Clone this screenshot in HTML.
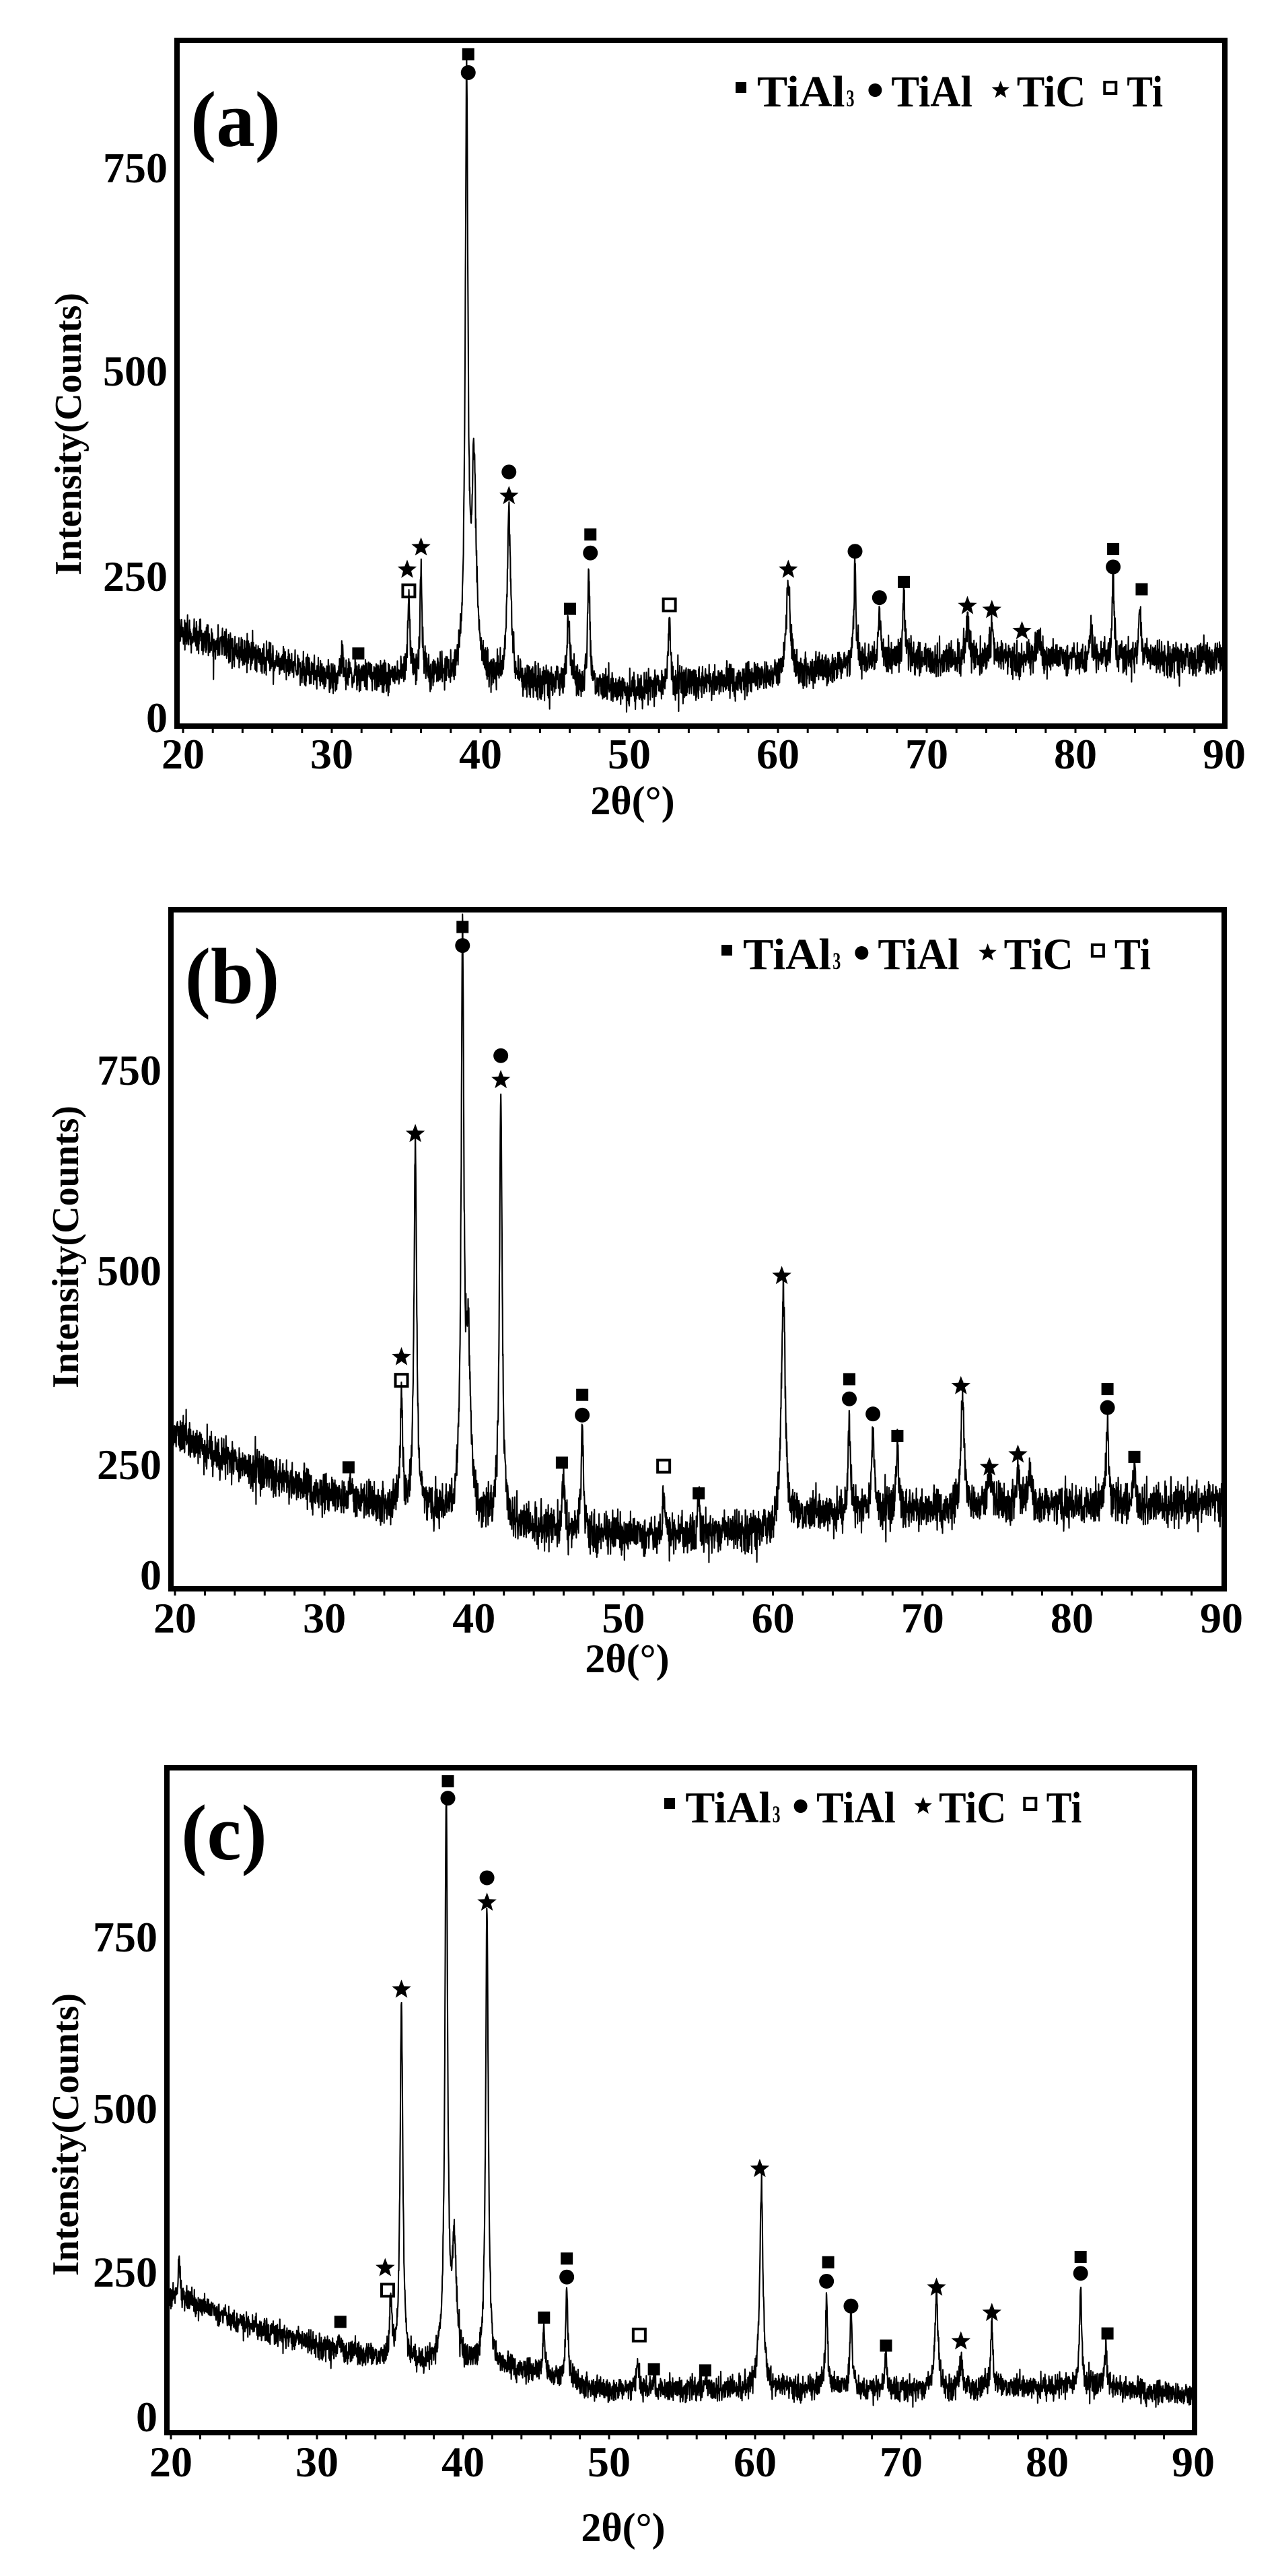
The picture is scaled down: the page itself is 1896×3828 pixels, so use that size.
<!DOCTYPE html>
<html><head><meta charset="utf-8">
<style>
html,body{margin:0;padding:0;background:#fff;}
svg{display:block;}
text{font-family:"Liberation Serif",serif;font-weight:bold;fill:#000;}
</style></head>
<body>
<svg id="s" width="1896" height="3828" viewBox="0 0 1896 3828" xmlns="http://www.w3.org/2000/svg">
<rect width="1896" height="3828" fill="#fff"/>
<g id="g"></g>
</svg>
<script>
(function(){
var NS="http://www.w3.org/2000/svg";
var G=document.getElementById('g');
function el(t,a,txt){var e=document.createElementNS(NS,t);for(var k in a)e.setAttribute(k,a[k]);if(txt!==undefined)e.textContent=txt;G.appendChild(e);return e;}
var seed=12345;function rnd(){seed=(seed*1103515245+12345)%2147483648;return seed/2147483648;}
var SX=1.21;
var panels=[
{lab:"(a)",off:0,ys:0.83,frame:[263,60,1820,1079],xl:[272,1819],xly:1120,
 yt:[[750,249],[500,551],[250,856],[0,1066]],
 xlab:[940,1190],ylab:[101,645],labp:[350,179],leg:[1098,1736,158],
 base:[[205,1120],[300,1170],[405,1210],[560,1210],[770,1235],[960,1210],[1100,1180],[1505,1180]],noise:13,
 peaks:[[420,1165,2],[502,1080,2],[517,1035,2],[573,160,2.5],[582,840,4],[625,915,3],[698,1115,3],[723,1030,2],[822,1105,2],[968,1045,3.5],[1050,1010,2],[1080,1110,3],[1110,1055,2],[1188,1110,3],[1218,1115,2.5],[1275,1150,4],[1340,1120,2],[1367,1035,2],[1400,1085,2]],
 mk:[["s",575,97],["c",575,130],["c",625,845],["t",625,888],["s",725,957],["c",725,990],["t",500,1020],["t",517,980],["o",502,1058],["s",440,1170],["s",700,1090],["o",822,1083],["t",968,1020],["c",1050,987],["c",1080,1070],["s",1110,1042],["t",1188,1085],["t",1218,1092],["t",1255,1130],["s",1367,983],["c",1367,1015],["s",1402,1055]]},
{lab:"(b)",off:1250,ys:0.8615,frame:[254,1352,1819,2361],xl:[260,1815],xly:2404,
 yt:[[750,1590],[500,1888],[250,2176],[0,2340]],
 xlab:[932,2465],ylab:[97,1853],labp:[345,1452],leg:[1077,1718,1440],
 base:[[212,1020],[300,1080],[430,1140],[560,1160],[700,1190],[800,1200],[940,1190],[1000,1160],[1200,1150],[1500,1140]],noise:15,
 peaks:[[430,1100,2],[493,950,2],[510,530,2.5],[568,190,2.5],[575,885,4],[615,440,2.5],[692,1090,2],[715,1015,2],[815,1115,2],[858,1140,2],[962,780,3.5],[1043,985,2],[1072,1020,2.5],[1102,1045,2],[1182,960,3],[1215,1100,4],[1250,1085,3],[1265,1090,3],[1360,1000,2.5],[1393,1080,2]],
 mk:[["s",568,148],["c",568,180],["c",615,370],["t",615,412],["t",510,505],["t",493,890],["o",493,930],["s",428,1080],["s",690,1072],["s",715,955],["c",715,990],["o",815,1078],["s",858,1125],["t",960,750],["s",1043,928],["c",1043,962],["c",1072,988],["s",1102,1026],["t",1180,940],["t",1215,1080],["t",1250,1058],["s",1360,945],["c",1360,977],["s",1393,1062]]},
{lab:"(c)",off:2600,ys:0.7837,frame:[248,2627,1775,3615],xl:[254,1773],xly:3658,
 yt:[[750,2878],[500,3133],[250,3376],[0,3591]],
 xlab:[926,3756],ylab:[97,3172],labp:[333,2725],leg:[992,1615,2708],
 base:[[207,1030],[300,1090],[400,1135],[480,1160],[560,1170],[640,1175],[740,1215],[935,1210],[1150,1215],[1330,1205],[1465,1225]],noise:10,
 peaks:[[220,965,1.5],[418,1120,2],[480,1050,2],[493,485,2.5],[548,110,2.5],[558,950,4],[598,310,2.5],[668,1100,2],[696,1030,2],[783,1140,1.5],[803,1195,2],[866,1195,2],[935,825,3],[1015,1035,2],[1045,1060,2],[1088,1150,2],[1150,1040,3],[1180,1150,2.5],[1218,1085,2],[1327,1020,2],[1358,1130,2]],
 mk:[["s",550,60],["c",550,92],["c",598,243],["t",598,290],["t",493,455],["t",473,983],["o",476,1025],["s",418,1085],["s",668,1077],["s",696,965],["c",696,1000],["o",785,1110],["s",803,1175],["s",866,1177],["t",933,795],["s",1017,972],["c",1015,1008],["c",1045,1055],["s",1088,1130],["t",1150,1020],["t",1180,1122],["t",1218,1068],["s",1327,962],["c",1327,993],["s",1360,1107]]}
];
function interp(b,x){if(x<=b[0][0])return b[0][1];for(var i=1;i<b.length;i++){if(x<=b[i][0]){var t=(x-b[i-1][0])/(b[i][0]-b[i-1][0]);return b[i-1][1]+t*(b[i][1]-b[i-1][1]);}}return b[b.length-1][1];}
function star(cx,cy,r){var p=[];for(var i=0;i<10;i++){var a=-Math.PI/2+i*Math.PI/5;var rr=i%2?r*0.42:r;p.push((cx+rr*Math.cos(a)).toFixed(1)+","+(cy+rr*Math.sin(a)).toFixed(1));}return p.join(" ");}
function marker(t,x,y){
 if(t=="s")el('rect',{x:x-9,y:y-9,width:18,height:18,fill:'#000'});
 else if(t=="c")el('circle',{cx:x,cy:y,r:11,fill:'#000'});
 else if(t=="t")el('polygon',{points:star(x,y,15),fill:'#000'});
 else if(t=="o")el('rect',{x:x-9,y:y-9,width:18,height:18,fill:'none',stroke:'#000','stroke-width':4});
}
panels.forEach(function(P){
 var f=P.frame;
 function Y(zy){return P.off+zy*P.ys;}
 var zl=f[0]/SX+1, zr=f[2]/SX-1;
 var d=[];
 for(var zx=zl;zx<=zr;zx+=0.3){
  var y=interp(P.base,zx);
  for(var k=0;k<P.peaks.length;k++){var pk=P.peaks[k];var A=interp(P.base,pk[0])-pk[1];var u=(zx-pk[0])/pk[2];y-=A/(1+u*u*1.6);}
  var n=(rnd()+rnd()+rnd()-1.5)*P.noise*2.2;
  if(rnd()<0.05)n+=(rnd()-0.5)*P.noise*4.5;
  y+=n;
  d.push((zx*SX).toFixed(1)+","+Y(y).toFixed(1));
 }
 el('polyline',{points:d.join(" "),fill:'none',stroke:'#000','stroke-width':2.1,'stroke-linejoin':'round'});
 el('rect',{x:f[0],y:f[1],width:f[2]-f[0],height:f[3]-f[1],fill:'none',stroke:'#000','stroke-width':8});
 var x20=P.xl[0],x90=P.xl[1];
 for(var v=20;v<=90;v+=2){var xx=x20+(v-20)/70*(x90-x20);if(xx<f[2]-4)el('line',{x1:xx,y1:f[3]+3,x2:xx,y2:f[3]+10,stroke:'#000','stroke-width':3});}
 for(var i=0;i<8;i++){var xx=x20+i*(x90-x20)/7;el('text',{x:xx,y:P.xly+22,'font-size':64,'text-anchor':'middle'},String(20+i*10));}
 P.yt.forEach(function(t){el('text',{x:f[0]-14,y:t[1]+22,'font-size':64,'text-anchor':'end'},String(t[0]));});
 el('text',{x:P.xlab[0],y:P.xlab[1]+20,'font-size':60,'text-anchor':'middle'},"2θ(°)");
 el('text',{x:0,y:0,'font-size':56,'text-anchor':'middle',transform:'translate('+(P.ylab[0]+19)+','+P.ylab[1]+') rotate(-90)'},"Intensity(Counts)");
 el('text',{x:0,y:0,'font-size':100,'text-anchor':'middle',transform:'translate('+P.labp[0]+','+(P.labp[1]+38)+') scale(1.15,1.18)'},P.lab);
 var L=P.leg, W=L[1]-L[0], by=L[2], sc=W/640;
 var x0=L[0];
 function tx(s,a,b,fs){el('text',{x:x0+a*sc,y:by,'font-size':fs,textLength:((b-a)*sc).toFixed(1),lengthAdjust:'spacingAndGlyphs'},s);}
 el('rect',{x:x0+3*sc-8,y:by-36,width:16,height:16,fill:'#000'});
 tx("TiAl",27,158,66);
 tx("3",160,172,36);
 el('circle',{cx:x0+203*sc,cy:by-24,r:10,fill:'#000'});
 tx("TiAl",227,348,66);
 el('polygon',{points:star(x0+390*sc,by-24,14),fill:'#000'});
 tx("TiC",414,517,66);
 el('rect',{x:x0+554*sc-9,y:by-36,width:17,height:17,fill:'none',stroke:'#000','stroke-width':4});
 tx("Ti",578,632,66);
 P.mk.forEach(function(m){marker(m[0],m[1]*SX,Y(m[2]));});
});
})();
</script>
</body></html>
